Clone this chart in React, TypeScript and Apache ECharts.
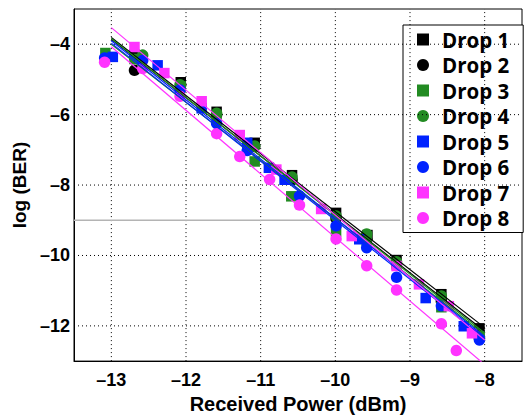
import React, { useEffect, useRef } from "react";
import * as echarts from "echarts";

const xTicks = [-13, -12, -11, -10, -9, -8];
const yTicks = [-12, -10, -8, -6, -4];
const xRange = [-13.5, -7.5];
const yRange = [-13, -3];
const thresholdLine = [[-13.5, -9], [-9.13, -9]];

const dropNames = ["Drop 1", "Drop 2", "Drop 3", "Drop 4", "Drop 5", "Drop 6", "Drop 7", "Drop 8"];
const dropColors = ["#000000", "#000000", "#228b22", "#228b22", "#0022ff", "#0022ff", "#ff33ff", "#ff33ff"];
const dropSymbols = ["rect", "circle", "rect", "circle", "rect", "circle", "rect", "circle"];

const drop1 = [[-12.69, -4.3], [-12.07, -5.08], [-11.59, -5.92], [-11.08, -6.8], [-10.58, -7.72], [-9.99, -8.79], [-9.57, -9.42], [-9.18, -10.13], [-8.58, -11.1], [-8.07, -12.07]];
const drop2 = [[-12.69, -4.74], [-12.07, -5.15], [-11.59, -6.0], [-11.08, -6.9], [-10.58, -7.85], [-9.99, -8.95], [-9.58, -9.55], [-9.18, -10.25], [-8.58, -11.3], [-8.07, -12.35]];
const drop3 = [[-13.08, -4.25], [-12.69, -4.42], [-12.07, -5.2], [-11.59, -6.05], [-11.08, -7.33], [-10.59, -8.32], [-9.99, -9.32], [-9.58, -9.58], [-9.18, -10.25], [-8.58, -11.47], [-8.07, -12.3]];
const drop4 = [[-12.58, -4.31], [-12.08, -5.15], [-11.59, -5.96], [-11.08, -6.89], [-10.58, -7.77], [-9.99, -8.88], [-9.58, -9.39], [-9.18, -10.18], [-8.58, -11.15], [-8.07, -12.35]];
const drop5 = [[-12.98, -4.36], [-12.38, -4.6], [-11.79, -5.82], [-11.18, -6.8], [-10.89, -7.51], [-10.68, -7.85], [-9.68, -9.54], [-8.79, -11.21], [-8.28, -12.01]];
const drop6 = [[-13.09, -4.39], [-12.58, -4.46], [-12.08, -5.3], [-11.59, -6.25], [-11.18, -7.02], [-10.48, -8.31], [-9.99, -9.16], [-9.58, -9.78], [-9.18, -10.62], [-8.58, -11.43], [-8.07, -12.4]];
const drop7 = [[-12.69, -4.08], [-12.29, -4.82], [-11.79, -5.62], [-11.28, -6.58], [-10.79, -7.56], [-10.19, -8.68], [-9.78, -9.45], [-9.18, -10.3], [-8.88, -10.82], [-8.48, -11.44], [-8.17, -12.21]];
const drop8 = [[-13.09, -4.51], [-12.58, -4.69], [-12.08, -5.48], [-11.59, -6.54], [-11.28, -7.19], [-10.88, -7.84], [-10.48, -8.57], [-9.99, -9.53], [-9.58, -10.29], [-9.18, -10.98], [-8.58, -11.94], [-8.38, -12.7]];

// fitted lines: endpoints
const fit1 = [[-13, -3.81], [-8, -12.05]];
const fit2 = [[-13, -3.86], [-8, -12.15]];
const fit3 = [[-13, -4.0], [-8, -12.25]];
const fit4 = [[-13, -3.84], [-8, -12.2]];
const fit5 = [[-13, -3.9], [-8, -12.3]];
const fit6 = [[-13, -3.97], [-8, -12.35]];
const fit7 = [[-13, -3.53], [-8, -12.4]];
const fit8 = [[-13, -4.07], [-8, -13.1]];

const drops = [drop1, drop2, drop3, drop4, drop5, drop6, drop7, drop8];
const fits = [fit1, fit2, fit3, fit4, fit5, fit6, fit7, fit8];

const dash = (v: number) => (v < 0 ? "\u2013" + Math.abs(v) : String(v));

export default function App() {
  const ref = useRef<HTMLDivElement>(null);
  useEffect(() => {
    if (!ref.current) return;
    const chart = echarts.init(ref.current, undefined, { renderer: "svg" });
    const axisFont = { fontFamily: "Liberation Sans, Arial, sans-serif", fontWeight: "bold" as const, fontSize: 18, color: "#000" };
    const gridStyle = { color: "#000", width: 1, type: [1, 3] };
    const series: any[] = [];
    xTicks.forEach((t) => {
      series.push({
        type: "line", name: "gx" + t, data: [[t, yRange[0]], [t, yRange[1]]],
        symbol: "none", silent: true, z: 2, lineStyle: gridStyle,
      });
    });
    yTicks.forEach((t) => {
      series.push({
        type: "line", name: "gy" + t, data: [[xRange[0], t], [xRange[1], t]],
        symbol: "none", silent: true, z: 2, lineStyle: gridStyle,
      });
    });
    series.push({
      type: "line",
      name: "threshold",
      data: thresholdLine,
      symbol: "none",
      silent: true,
      z: 2,
      lineStyle: { color: "#b4b4b4", width: 1.5, type: "solid" },
    });
    drops.forEach((d, i) => {
      series.push({
        type: "scatter",
        name: dropNames[i],
        data: d,
        symbol: dropSymbols[i],
        symbolSize: dropSymbols[i] === "rect" ? 10.5 : 11.5,
        itemStyle: { color: dropColors[i], opacity: 1 },
        z: 3,
      });
    });
    fits.forEach((f, i) => {
      series.push({
        type: "line",
        name: "fit" + (i + 1),
        data: f,
        symbol: "none",
        lineStyle: { color: dropColors[i], width: 1.2 },
        z: 4,
        silent: true,
      });
    });
    chart.setOption({
      animation: false,
      grid: { left: 74, right: -2, top: 9, bottom: 51, show: true, borderColor: "#000", borderWidth: 1, backgroundColor: "transparent" },
      legend: {
        data: dropNames.map((n, i) => ({ name: n, icon: dropSymbols[i] })),
        orient: "vertical",
        left: 403,
        top: 25,
        padding: [4, 14, 4, 14],
        itemGap: 4.5,
        itemWidth: 12,
        itemHeight: 12,
        borderColor: "#000",
        borderWidth: 1,
        backgroundColor: "#fff",
        borderRadius: 0,
        z: 1,
        textStyle: { fontFamily: "Open Sans, sans-serif", fontWeight: "bold", fontSize: 20.5, lineHeight: 20.5, color: "#000", padding: [0, 0, 0, 8] },
        selectedMode: false,
      },
      xAxis: {
        type: "value",
        min: xRange[0],
        max: xRange[1],
        interval: 0.5,
        name: "Received Power (dBm)",
        nameLocation: "middle",
        nameGap: 31,
        nameTextStyle: { ...axisFont, fontSize: 20 },
        axisLine: { show: true, onZero: false, lineStyle: { color: "#000", width: 1 } },
        axisTick: { show: false },
        splitLine: { show: false },
        axisLabel: {
          ...axisFont,
          margin: 10,
          formatter: (v: number) => (xTicks.includes(v) ? dash(v) : ""),
        },
      },
      yAxis: {
        type: "value",
        min: yRange[0],
        max: yRange[1],
        interval: 1,
        name: "log (BER)",
        nameLocation: "middle",
        nameGap: 45,
        nameTextStyle: { ...axisFont, fontSize: 19 },
        axisLine: { show: true, onZero: false, lineStyle: { color: "#000", width: 1 } },
        axisTick: { show: false },
        splitLine: { show: false },
        axisLabel: {
          ...axisFont,
          margin: 4,
          formatter: (v: number) => (yTicks.includes(v) ? dash(v) : ""),
        },
      },
      series,
    });
    return () => chart.dispose();
  }, []);
  return <div ref={ref} style={{ width: 525, height: 419, position: "absolute", left: 0, top: 0, background: "#fff" }} />;
}
